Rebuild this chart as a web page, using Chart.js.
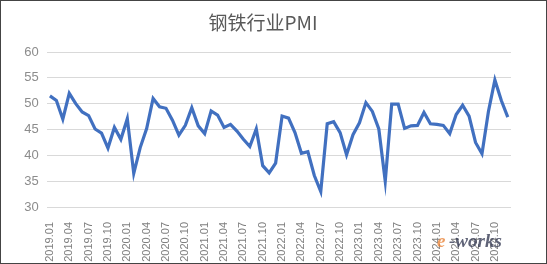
<!DOCTYPE html>
<html>
<head>
<meta charset="utf-8">
<script src="https://cdn.jsdelivr.net/npm/chart.js@4"></script>
<style>
  html, body { margin: 0; padding: 0; background: #fff; }
  #wrap { width: 547px; height: 264px; box-sizing: border-box; border: 1px solid #444; position: relative; }
</style>
</head>
<body>
<div id="wrap"><canvas id="c"></canvas></div>
<script>
// months 2019.01 - 2024.12
const months = [];
for (let y = 2019; y <= 2024; y++) {
  for (let m = 1; m <= 12; m++) months.push(y + '.' + (m < 10 ? '0' + m : m));
}

// 钢铁行业PMI
const pmi2019 = [51.5, 50.6, 47.0, 52.0, 50.0, 48.4, 47.7, 45.1, 44.3, 41.4, 45.4, 43.1];
const pmi2020 = [47.1, 36.5, 41.5, 45.2, 51.0, 49.4, 49.1, 46.8, 43.9, 45.8, 49.2, 45.7];
const pmi2021 = [44.2, 48.6, 47.8, 45.4, 46.0, 44.7, 43.1, 41.7, 45.1, 38.0, 36.6, 38.5];
const pmi2022 = [47.6, 47.2, 44.4, 40.4, 40.7, 36.1, 33.0, 46.1, 46.5, 44.4, 40.1, 44.0];
const pmi2023 = [46.3, 50.2, 48.5, 45.1, 35.0, 49.9, 49.9, 45.2, 45.7, 45.8, 48.3, 46.1];
const pmi2024 = [46.0, 45.8, 44.2, 47.9, 49.7, 47.6, 42.5, 40.3, 48.5, 54.6, 50.6, 47.4];
const pmi = [].concat(pmi2019, pmi2020, pmi2021, pmi2022, pmi2023, pmi2024);

const yTicks = [30, 35, 40, 45, 50, 55, 60];
const titleText = '钢铁行业PMI';

// title centred on the whole picture, plus the corner watermark
const decor = {
  id: 'decor',
  afterDraw(chart) {
    const ctx = chart.ctx;
    ctx.save();
    ctx.font = '19px "Noto Sans CJK SC", "Noto Sans"';
    ctx.fillStyle = '#595959';
    ctx.textAlign = 'center';
    ctx.textBaseline = 'middle';
    ctx.fillText(titleText, 262, 22);

    ctx.textAlign = 'left';
    ctx.font = 'italic bold 19px "Liberation Serif"';
    ctx.fillStyle = 'rgba(232,125,45,0.75)';
    ctx.fillText('e', 436, 241);
    ctx.fillStyle = 'rgba(55,60,85,0.8)';
    ctx.fillText('-works', 448, 241);
    ctx.restore();
  }
};

new Chart(document.getElementById('c'), {
  type: 'line',
  data: {
    labels: months,
    datasets: [{
      data: pmi,
      borderColor: '#4170c0',
      borderWidth: 3.2,
      pointRadius: 0,
      tension: 0,
      fill: false
    }]
  },
  options: {
    responsive: true,
    maintainAspectRatio: false,
    animation: false,
    layout: { padding: { left: 0, right: 35, top: 51, bottom: 0 } },
    plugins: {
      legend: { display: false },
      tooltip: { enabled: false },
      title: { display: false }
    },
    scales: {
      x: {
        offset: true,
        grid: { display: false },
        border: { display: false },
        ticks: {
          autoSkip: false,
          minRotation: 90,
          maxRotation: 90,
          padding: 7,
          color: '#7f7f7f',
          font: { family: '"Liberation Sans", Arial', size: 11 },
          callback: function (v, i) { return i % 3 === 0 ? months[i] : ''; }
        },
        afterFit: function (s) { s.height = 56; }
      },
      y: {
        min: 30,
        max: 60,
        afterBuildTicks: function (s) { s.ticks = yTicks.map(v => ({ value: v })); },
        grid: { color: '#d9d9d9', lineWidth: 1, drawTicks: false },
        border: { display: false },
        ticks: {
          padding: 8,
          color: '#8c8c8c',
          font: { family: '"Liberation Sans", Arial', size: 13 }
        },
        afterFit: function (s) { s.width = 45.7; }
      }
    }
  },
  plugins: [decor]
});
</script>
</body>
</html>
